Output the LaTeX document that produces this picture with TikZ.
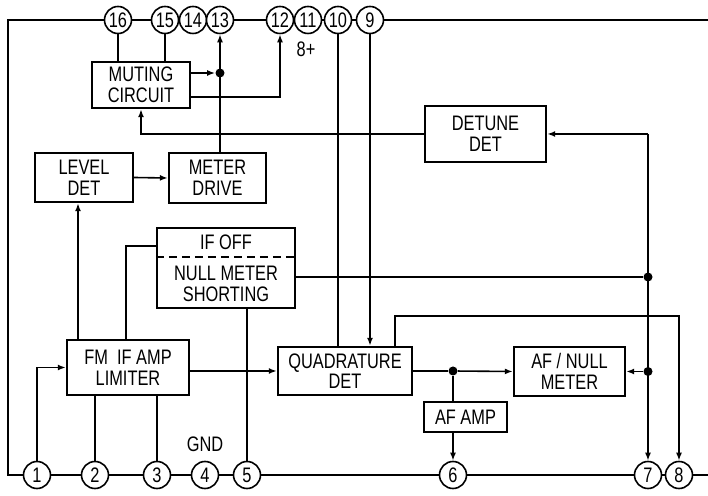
\documentclass[tikz,border=0pt]{standalone}
\usepackage{fontspec}
\setmainfont{Liberation Sans}[FakeStretch=0.78]
\usetikzlibrary{arrows.meta,positioning}

\begin{document}
\begin{tikzpicture}[
    x=0.5pt, y=-0.5pt,
    font=\fontsize{10.5}{10.3}\selectfont,
    block/.style={draw, line width=1.2pt, align=center, inner sep=0pt},
    pin/.style={draw, circle, fill=white, line width=0.8pt, minimum size=13.5pt, inner sep=0pt},
    junction/.style={circle, fill, inner sep=0pt, minimum size=4.5pt},
    line/.style={line width=0.8pt},
    sig/.style={line, -{Latex[length=4pt, width=3pt]}},
    frame/.style={line width=1.4pt}
]
\useasboundingbox (0,0) rectangle (708,496);

% chip outline
\draw[frame] (708,20) -- (8,20) -- (8,475) -- (708,475);

% pins
\foreach \n/\x in {16/118,15/165,14/193,13/220,12/280,11/308,10/338,9/370}
    \node[pin] (p\n) at (\x,20) {\n};
\foreach \n/\x in {1/37,2/95,3/157,4/205,5/247,6/453,7/648,8/679}
    \node[pin] (p\n) at (\x,475) {\n};
\node (vcc) at (306,49) {8+};
\node[above=1pt of p4] (gnd) {GND};

% blocks
\node[block, minimum width=49pt, minimum height=23pt] (mute) at (141,85) {MUTING\\CIRCUIT};
\node[block, minimum width=60.5pt, minimum height=28pt] (detune) at (485.5,134) {DETUNE\\DET};
\node[block, minimum width=49pt, minimum height=24.5pt] (level) at (84,177.5) {LEVEL\\DET};
\node[block, minimum width=48.5pt, minimum height=25pt] (drive) at (217.5,178) {METER\\DRIVE};
\node[block, minimum width=69pt, minimum height=40pt] (ifoff) at (226,268) {};
\node (ifofftxt) at (226,242) {IF OFF};
\node[align=center] (nulltxt) at (226,284) {NULL METER\\SHORTING};
\draw[line width=1.1pt, dash pattern=on 4pt off 2.5pt] (ifoff.west |- 0,257) -- (ifoff.east |- 0,257);
\node[block, minimum width=61pt, minimum height=27.5pt] (fmif) at (128,367.5) {FM\ \ IF AMP\\LIMITER};
\node[block, minimum width=67pt, minimum height=24pt] (quad) at (345,371) {QUADRATURE\\DET};
\node[block, minimum width=55.5pt, minimum height=24.5pt] (afnull) at (569.5,371.5) {AF / NULL\\METER};
\node[block, minimum width=41.5pt, minimum height=15pt] (afamp) at (465.5,417) {AF AMP};

% junctions
\node[junction] (j13) at (p13 |- 0,73) {};
\node[junction] (jn) at (p7 |- 0,277) {};
\node[junction] (jm) at (p7 |- afnull.east) {};
\node[junction] (ja) at (p6 |- quad.east) {};
\coordinate (jd) at (detune.east -| p7);

% muting circuit
\draw[line] (p16) -- (p16 |- mute.north);
\draw[line] (p15) -- (p15 |- mute.north);
\draw[sig] (mute.east |- j13) -- (j13);
\draw[sig] (drive.north -| p13) -- (p13);
\draw[sig] (mute.east |- 0,97) -| (p12);
\draw[sig] (detune.west) -| (mute.south);

% level / meter
\draw[sig] (level.east) -- (drive.west);
\draw[sig] (fmif.north -| 78,0) -- (level.south -| 78,0);
\draw[line] (fmif.north -| 126,0) |- (ifoff.west |- 0,246);
\draw[line] (ifoff.east |- jn) -- (jn);
\draw[line] (ifoff.south -| p5) -- (p5);

% if amp
\draw[sig] (p1) |- (fmif.west);
\draw[line] (fmif.south -| p2) -- (p2);
\draw[line] (fmif.south -| p3) -- (p3);
\draw[sig] (fmif.east |- quad.west) -- (quad.west);

% detector and af
\draw[line] (p10) -- (p10 |- quad.north);
\draw[sig] (p9) -- (p9 |- quad.north);
\draw[sig] (quad.north -| 395,0) |- (p8 |- 0,316) -- (p8);
\draw[line] (quad.east) -- (ja);
\draw[sig] (ja) -- (afnull.west);
\draw[line] (ja) -- (ja |- afamp.north);
\draw[sig] (afamp.south -| p6) -- (p6);
\draw[sig] (jm) -- (afnull.east);
\draw[sig] (jd) -- (detune.east);
\draw[sig] (jd) -- (p7);
\end{tikzpicture}
\end{document}
